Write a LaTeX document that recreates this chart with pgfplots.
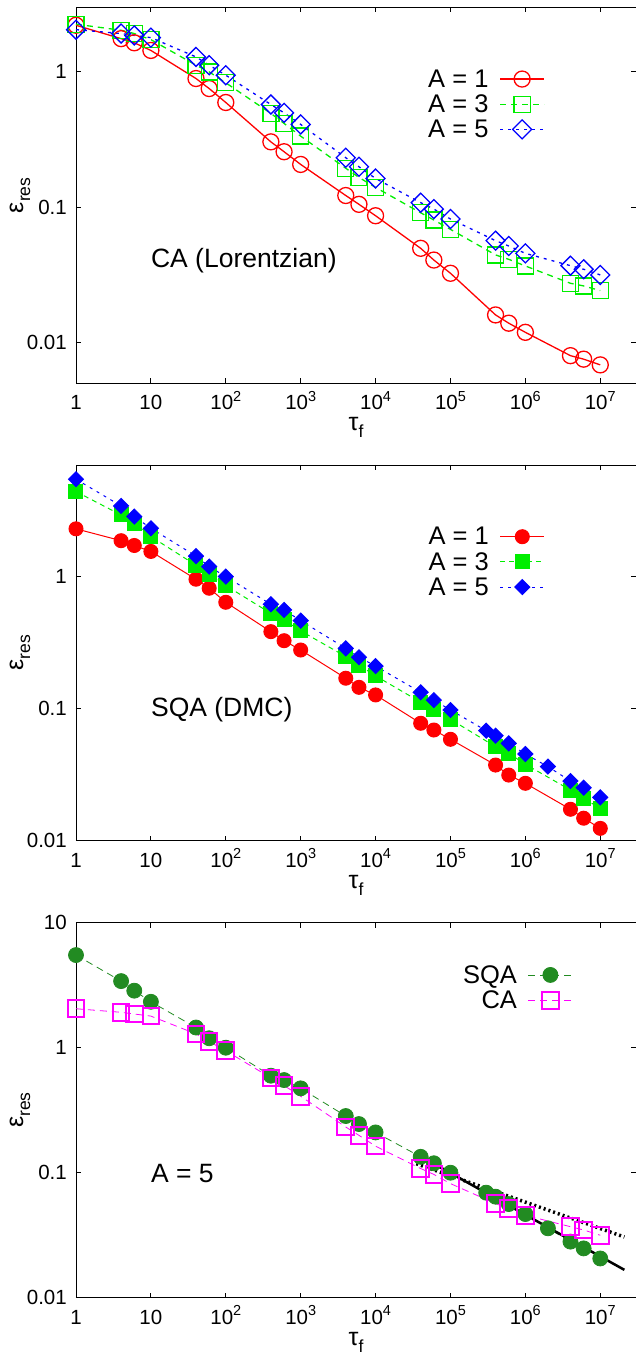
\documentclass[border=0pt]{standalone}
\usepackage{pgfplots}
\pgfplotsset{compat=1.18}
\usepackage{fontspec}
\setmainfont{Liberation Sans}
\definecolor{cred}{RGB}{255,0,0}
\definecolor{cgreen}{RGB}{0,238,0}
\definecolor{cblue}{RGB}{0,0,255}
\definecolor{fgreen}{RGB}{34,139,34}
\definecolor{cmag}{RGB}{255,0,255}
\newcommand{\sexp}[1]{10\raisebox{0.42em}{\fontsize{14.5}{14.5}\selectfont #1}}
\newcommand{\eres}{ε\raisebox{-0.28em}{\fontsize{17.5}{17.5}\selectfont res}}
\newcommand{\tauf}{τ\raisebox{-0.28em}{\fontsize{17.5}{17.5}\selectfont f}}
\pgfplotsset{
  legend image code/.code={\draw[mark repeat=2,mark phase=2,#1] plot coordinates {(0pt,0pt)(22pt,0pt)(44pt,0pt)};},
  /pgf/number format/assume math mode=true,
}
\begin{document}
\begin{tikzpicture}
\useasboundingbox (0,0) rectangle (635pt,1355pt);
% ---------------- Panel 1 ----------------
\begin{axis}[
    xmode=log, ymode=log,
    scale only axis, width=560pt,
    xmin=1, xmax=3e7,
    xtick={1,10,100,1000,10000,100000,1000000,10000000},
    xticklabels={1,10,\sexp{2},\sexp{3},\sexp{4},\sexp{5},\sexp{6},\sexp{7}},
    xminorticks=false, yminorticks=false,
    clip=false,
    axis line style={line width=0.9pt},
    tick style={black, line width=0.9pt},
    major tick length=5pt,
    tick label style={font=\fontsize{20.5}{24}\selectfont},
    xticklabel style={anchor=base, inner sep=0pt, yshift=-26.7pt},
    yticklabel style={anchor=east, inner sep=0pt, xshift=-9pt},
    xlabel={\tauf}, ylabel={\eres},
    label style={font=\fontsize{25}{28}\selectfont, inner sep=0pt},
    xlabel style={at={(axis description cs:0.5,-0.118)}, anchor=center},
    ylabel style={at={(axis description cs:-0.1,0.5)}, anchor=center},
    legend cell align=right, legend plot pos=right,
    legend style={draw=none, fill=none, font=\fontsize{25.5}{28}\selectfont, inner sep=0pt, row sep=6pt, column sep=11pt, nodes={inner sep=0pt}},
  at={(76pt,971.7pt)}, anchor=south west, height=376pt,
  ymin=0.005, ymax=3, ytick={0.01,0.1,1}, yticklabels={0.01,0.1,1},
  legend style={at={(axis description cs:0.8375,0.835)}, anchor=north east}]
\addplot[cred, line width=1.3pt, mark=o, mark size=8pt, mark options={solid, line width=1.3pt}] coordinates {
(1,2.21)(4,1.76)(6,1.64)(10,1.44)(40,0.893)(60,0.753)(100,0.594)(400,0.304)(600,0.257)(1000,0.207)(4000,0.122)(6000,0.105)(1e4,0.0865)(4e4,0.0497)(6e4,0.0407)(1e5,0.0325)(4e5,0.0160)(6e5,0.0139)(1e6,0.0119)(4e6,0.0080)(6e6,0.00754)(1e7,0.00684)};
\addlegendentry{A = 1}
\addplot[cgreen, line width=1.3pt, dash pattern=on 6pt off 5pt, mark=square, mark size=8pt, mark options={solid, line width=1.3pt}] coordinates {
(1,2.25)(4,2.03)(6,1.92)(10,1.73)(40,1.12)(60,1.0)(100,0.830)(400,0.493)(600,0.416)(1000,0.335)(4000,0.194)(6000,0.166)(1e4,0.140)(4e4,0.091)(6e4,0.0804)(1e5,0.0686)(4e5,0.0444)(6e5,0.0412)(1e6,0.0368)(4e6,0.0274)(6e6,0.0262)(1e7,0.0242)};
\addlegendentry{A = 3}
\addplot[cblue, line width=1.3pt, dash pattern=on 3pt off 5pt, mark=square, mark size=6.7pt, mark options={solid, line width=1.3pt, rotate=45}] coordinates {
(1,2.05)(4,1.92)(6,1.86)(10,1.79)(40,1.29)(60,1.12)(100,0.945)(400,0.574)(600,0.498)(1000,0.409)(4000,0.232)(6000,0.199)(1e4,0.163)(4e4,0.108)(6e4,0.0969)(1e5,0.0818)(4e5,0.0566)(6e5,0.0517)(1e6,0.0456)(4e6,0.0370)(6e6,0.0348)(1e7,0.0316)};
\addlegendentry{A = 5}
\node[anchor=west, inner sep=0pt, font=\fontsize{26.5}{28}\selectfont] at (axis cs:10,0.0401) {CA (Lorentzian)};
\end{axis}
% ---------------- Panel 2 ----------------
\begin{axis}[
    xmode=log, ymode=log,
    scale only axis, width=560pt,
    xmin=1, xmax=3e7,
    xtick={1,10,100,1000,10000,100000,1000000,10000000},
    xticklabels={1,10,\sexp{2},\sexp{3},\sexp{4},\sexp{5},\sexp{6},\sexp{7}},
    xminorticks=false, yminorticks=false,
    clip=false,
    axis line style={line width=0.9pt},
    tick style={black, line width=0.9pt},
    major tick length=5pt,
    tick label style={font=\fontsize{20.5}{24}\selectfont},
    xticklabel style={anchor=base, inner sep=0pt, yshift=-26.7pt},
    yticklabel style={anchor=east, inner sep=0pt, xshift=-9pt},
    xlabel={\tauf}, ylabel={\eres},
    label style={font=\fontsize{25}{28}\selectfont, inner sep=0pt},
    xlabel style={at={(axis description cs:0.5,-0.118)}, anchor=center},
    ylabel style={at={(axis description cs:-0.1,0.5)}, anchor=center},
    legend cell align=right, legend plot pos=right,
    legend style={draw=none, fill=none, font=\fontsize{25.5}{28}\selectfont, inner sep=0pt, row sep=6pt, column sep=11pt, nodes={inner sep=0pt}},
  at={(76pt,514.3pt)}, anchor=south west, height=375.7pt,
  ymin=0.01, ymax=7, ytick={0.01,0.1,1}, yticklabels={0.01,0.1,1},
  legend style={at={(axis description cs:0.8375,0.835)}, anchor=north east}]
\addplot[cred, line width=1pt, mark=*, mark size=7pt, mark options={solid}] coordinates {
(1,2.30)(4,1.87)(6,1.72)(10,1.55)(40,0.955)(60,0.816)(100,0.639)(400,0.383)(600,0.327)(1000,0.278)(4000,0.170)(6000,0.145)(1e4,0.127)(4e4,0.0775)(6e4,0.0689)(1e5,0.0586)(4e5,0.0374)(6e5,0.0314)(1e6,0.0272)(4e6,0.0173)(6e6,0.0148)(1e7,0.0124)};
\addlegendentry{A = 1}
\addplot[cgreen, line width=1pt, dash pattern=on 5pt off 4pt, mark=square*, mark size=7pt, mark options={solid}] coordinates {
(1,4.40)(4,2.93)(6,2.54)(10,2.01)(40,1.22)(60,1.03)(100,0.855)(400,0.527)(600,0.470)(1000,0.388)(4000,0.248)(6000,0.214)(1e4,0.177)(4e4,0.112)(6e4,0.0977)(1e5,0.0830)(4e5,0.0515)(6e5,0.0459)(1e6,0.0379)(4e6,0.0242)(6e6,0.0209)(1e7,0.0176)};
\addlegendentry{A = 3}
\addplot[cblue, line width=1pt, dash pattern=on 3pt off 5pt, mark=square*, mark size=5.3pt, mark options={solid, rotate=45}] coordinates {
(1,5.46)(4,3.43)(6,2.85)(10,2.32)(40,1.43)(60,1.19)(100,1.0)(400,0.617)(600,0.559)(1000,0.464)(4000,0.286)(6000,0.245)(1e4,0.210)(4e4,0.133)(6e4,0.116)(1e5,0.0977)(3e5,0.0681)(4e5,0.0624)(6e5,0.0546)(1e6,0.0453)(2e6,0.0364)(4e6,0.0283)(6e6,0.0252)(1e7,0.0213)};
\addlegendentry{A = 5}
\node[anchor=west, inner sep=0pt, font=\fontsize{26.5}{28}\selectfont] at (axis cs:10,0.0977) {SQA (DMC)};
\end{axis}
% ---------------- Panel 3 ----------------
\begin{axis}[
    xmode=log, ymode=log,
    scale only axis, width=560pt,
    xmin=1, xmax=3e7,
    xtick={1,10,100,1000,10000,100000,1000000,10000000},
    xticklabels={1,10,\sexp{2},\sexp{3},\sexp{4},\sexp{5},\sexp{6},\sexp{7}},
    xminorticks=false, yminorticks=false,
    clip=false,
    axis line style={line width=0.9pt},
    tick style={black, line width=0.9pt},
    major tick length=5pt,
    tick label style={font=\fontsize{20.5}{24}\selectfont},
    xticklabel style={anchor=base, inner sep=0pt, yshift=-26.7pt},
    yticklabel style={anchor=east, inner sep=0pt, xshift=-9pt},
    xlabel={\tauf}, ylabel={\eres},
    label style={font=\fontsize{25}{28}\selectfont, inner sep=0pt},
    xlabel style={at={(axis description cs:0.5,-0.118)}, anchor=center},
    ylabel style={at={(axis description cs:-0.1,0.5)}, anchor=center},
    legend cell align=right, legend plot pos=right,
    legend style={draw=none, fill=none, font=\fontsize{25.5}{28}\selectfont, inner sep=0pt, row sep=6pt, column sep=11pt, nodes={inner sep=0pt}},
  at={(76pt,57.3pt)}, anchor=south west, height=375pt,
  ymin=0.01, ymax=10, ytick={0.01,0.1,1,10}, yticklabels={0.01,0.1,1,10},
  legend style={at={(axis description cs:0.8875,0.887)}, anchor=north east}]
\addplot[fgreen, line width=0.8pt, dash pattern=on 7pt off 5pt, mark=*, mark size=7.5pt, mark options={solid}] coordinates {
(1,5.51)(4,3.41)(6,2.86)(10,2.33)(40,1.45)(60,1.19)(100,1.0)(400,0.597)(600,0.551)(1000,0.473)(4000,0.284)(6000,0.245)(1e4,0.210)(4e4,0.134)(6e4,0.119)(1e5,0.1)(3e5,0.0692)(4e5,0.0643)(6e5,0.0561)(1e6,0.0467)(2e6,0.0359)(4e6,0.0281)(6e6,0.0248)(1e7,0.0206)};
\addlegendentry{SQA}
\addplot[cmag, line width=0.8pt, dash pattern=on 7pt off 5pt, mark=square, mark size=8.3pt, mark options={solid, line width=2pt}] coordinates {
(1,2.05)(4,1.92)(6,1.86)(10,1.79)(40,1.29)(60,1.12)(100,0.945)(400,0.574)(600,0.498)(1000,0.409)(4000,0.232)(6000,0.199)(1e4,0.163)(4e4,0.108)(6e4,0.0969)(1e5,0.0818)(4e5,0.0566)(6e5,0.0517)(1e6,0.0456)(4e6,0.0370)(6e6,0.0348)(1e7,0.0316)};
\addlegendentry{CA}
\addplot[black, line width=2.5pt, forget plot] coordinates {(3.5e4,0.141)(2.1e7,0.0167)};
\addplot[black, line width=3.5pt, dash pattern=on 2pt off 3pt, forget plot] coordinates {(3.5e4,0.118)(2.1e7,0.0306)};
\node[anchor=west, inner sep=0pt, font=\fontsize{26.5}{28}\selectfont] at (axis cs:10,0.099) {A = 5};
\end{axis}
\end{tikzpicture}
\end{document}
